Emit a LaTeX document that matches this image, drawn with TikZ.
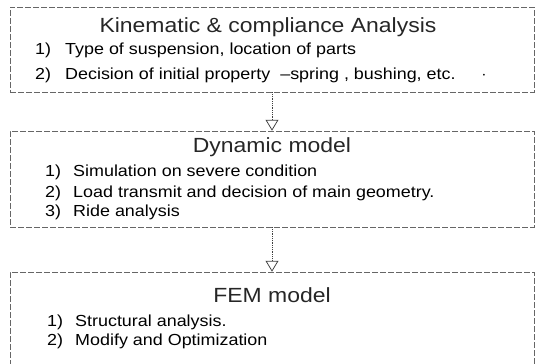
\documentclass[tikz,border=0pt]{standalone}
\usepackage{fontspec}
\setmainfont{Liberation Sans}[FakeStretch=1.12]
\usetikzlibrary{arrows.meta,positioning}

\begin{document}
\begin{tikzpicture}[
  x=1pt, y=-1pt,
  stage/.style={rectangle, draw=black!60, line width=0.5pt,
                dash pattern=on 6pt off 2pt, inner sep=0pt},
  head/.style={font=\fontsize{20.5}{24}\selectfont, inner sep=0pt, text=black!85},
  item/.style={font=\fontsize{16}{19}\selectfont, anchor=west, inner sep=0pt},
  a/.style={-{Triangle[open, length=11pt, width=13pt]}, densely dotted,
            draw=black!75, line width=0.8pt}
]
\useasboundingbox (0,0) rectangle (539,364);
\clip (0,0) rectangle (539,364);

% ---------------- boxes ----------------
\node[stage, minimum width=524, minimum height=85] (kc) at (272,49.5) {};
\node[stage, minimum width=524, minimum height=96] (dyn) at (272,179) {};
\node[stage, minimum width=524, minimum height=120] (fem) at (272,332) {};

% ---------------- kinematic & compliance ----------------
\node[head] (kchead) at (268,27) {Kinematic \& compliance Analysis};
\node[item] (kc1) at (35,50) {\makebox[30pt][l]{1)}Type of suspension, location of parts};
\node[item] (kc2) at (35,75) {\makebox[30pt][l]{2)}Decision of initial property \ --spring , bushing, etc.\quad\ \ $\cdot$};

% ---------------- dynamic model ----------------
\node[head] (dynhead) at (272,147) {Dynamic model};
\node[item] (dyn1) at (45,172) {\makebox[28pt][l]{1)}Simulation on severe condition};
\node[item] (dyn2) at (45,193) {\makebox[28pt][l]{2)}Load transmit and decision of main geometry.};
\node[item] (dyn3) at (45,212) {\makebox[28pt][l]{3)}Ride analysis};

% ---------------- FEM model ----------------
\node[head] (femhead) at (272,295) {FEM model};
\node[item] (fem1) at (47,322) {\makebox[28pt][l]{1)}Structural analysis.};
\node[item] (fem2) at (47,341) {\makebox[28pt][l]{2)}Modify and Optimization};

% ---------------- arrows ----------------
\draw[a] (kc) -- (dyn);
\draw[a] (dyn) -- (fem);
\end{tikzpicture}
\end{document}
